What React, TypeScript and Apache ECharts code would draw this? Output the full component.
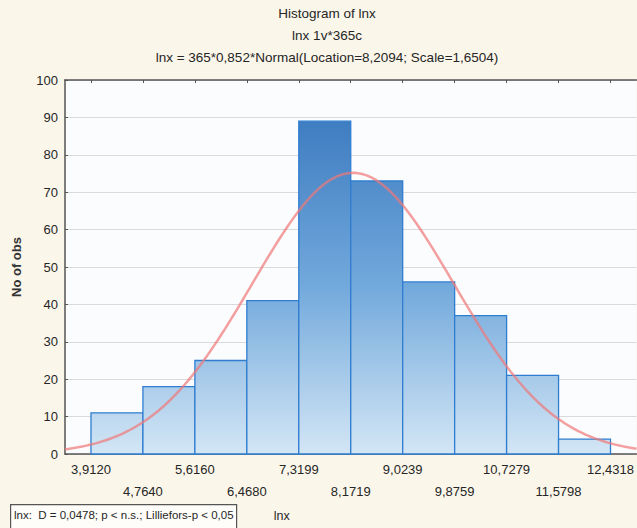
import React, { useEffect, useRef } from "react";
import * as echarts from "echarts";

// Histogram of lnx with the fitted normal curve
const binEdges = [3.912, 4.764, 5.616, 6.468, 7.3199, 8.1719, 9.0239, 9.8759, 10.7279, 11.5798, 12.4318];
const binCounts = [11, 18, 25, 41, 89, 73, 46, 37, 21, 4];
const yTicks = [0, 10, 20, 30, 40, 50, 60, 70, 80, 90, 100];

// Fit parameters shown in the subtitle: lnx = 365*0,852*Normal(Location=8,2094; Scale=1,6504)
const N_OBS = 365;
const BIN_WIDTH = 0.852;
const LOCATION = 8.2094;
const SCALE = 1.6504;

const titleLines = [
  "Histogram of lnx",
  "lnx 1v*365c",
  "lnx = 365*0,852*Normal(Location=8,2094; Scale=1,6504)",
];
const statsText = "lnx:  D = 0,0478; p < n.s.; Lilliefors-p < 0,05";

const FONT = "'Liberation Sans', Arial, sans-serif";

const fmt = (v: number) => v.toFixed(4).replace(".", ",");

export default function App() {
  const ref = useRef<HTMLDivElement>(null);

  useEffect(() => {
    document.body.style.margin = "0";
    if (!ref.current) return;
    const chart = echarts.init(ref.current, undefined, { renderer: "svg" });

    const xMin = binEdges[0] - BIN_WIDTH / 2;
    const xMax = binEdges[binEdges.length - 1] + BIN_WIDTH / 2;

    const bars = binCounts.map((c, i) => [binEdges[i], binEdges[i + 1], c]);

    const curve: number[][] = [];
    const steps = 200;
    for (let i = 0; i <= steps; i++) {
      const x = xMin + ((xMax - xMin) * i) / steps;
      const z = (x - LOCATION) / SCALE;
      const pdf = Math.exp(-0.5 * z * z) / (SCALE * Math.sqrt(2 * Math.PI));
      curve.push([x, N_OBS * BIN_WIDTH * pdf]);
    }

    chart.setOption({
      animation: false,
      backgroundColor: "#fbf6ea",
      textStyle: { fontFamily: FONT },
      title: titleLines.map((t, i) => ({
        text: t,
        left: 327,
        top: 6 + i * 22,
        textAlign: "center",
        padding: 0,
        textStyle: { fontFamily: FONT, fontSize: 13.5, fontWeight: "normal", color: "#262626" },
      })),
      grid: {
        left: 65,
        right: -2,
        top: 80,
        bottom: 74,
        show: true,
        backgroundColor: "#fbfcfe",
        borderWidth: 0,
      },
      xAxis: [
        {
          type: "value",
          min: xMin,
          max: xMax,
          name: "lnx",
          nameLocation: "middle",
          nameGap: 55,
          nameTextStyle: { fontFamily: FONT, fontSize: 12.5, color: "#262626", padding: [0, 138, 0, 0] },
          axisLine: { show: true, lineStyle: { color: "#555", width: 1.5 } },
          axisTick: { show: false },
          splitLine: { show: false },
          axisLabel: {
            customValues: binEdges,
            margin: 4,
            fontSize: 13,
            lineHeight: 22.5,
            color: "#262626",
            fontFamily: FONT,
            formatter: (v: number) => {
              const i = binEdges.findIndex((e) => Math.abs(e - v) < 1e-6);
              const s = fmt(v);
              return i % 2 === 1 ? "\n" + s : s;
            },
          },
        },
        {
          type: "value",
          position: "top",
          min: xMin,
          max: xMax,
          axisLine: { show: true, lineStyle: { color: "#555", width: 1.5 } },
          axisTick: { show: true, inside: true, length: 3, customValues: binEdges, lineStyle: { color: "#555" } },
          axisLabel: { show: false },
          splitLine: { show: false },
        },
      ],
      yAxis: {
        type: "value",
        min: 0,
        max: 100,
        interval: 10,
        name: "No of obs",
        nameLocation: "middle",
        nameGap: 42,
        nameTextStyle: { fontFamily: FONT, fontSize: 13, fontWeight: "bold", color: "#333" },
        axisLine: { show: true, lineStyle: { color: "#555", width: 1.5 } },
        axisTick: { show: true, inside: true, length: 3, lineStyle: { color: "#555" } },
        axisLabel: {
          margin: 7,
          fontSize: 13,
          color: "#262626",
          fontFamily: FONT,
          customValues: yTicks,
        },
        splitLine: { show: true, lineStyle: { color: "#dadada", width: 1 } },
      },
      series: [
        {
          type: "custom",
          xAxisIndex: 0,
          encode: { x: [0, 1], y: 2 },
          data: bars,
          z: 2,
          renderItem: (_params: any, api: any) => {
            const top = api.coord([api.value(0), api.value(2)]);
            const bottom = api.coord([api.value(1), 0]);
            const plotTop = api.coord([api.value(0), 100])[1];
            const fill = new echarts.graphic.LinearGradient(
              0,
              plotTop,
              0,
              bottom[1],
              [
                { offset: 0, color: "#3a74b8" },
                { offset: 0.1, color: "#3e7cc1" },
                { offset: 0.55, color: "#72a9dc" },
                { offset: 1, color: "#d3e6f5" },
              ],
              true
            );
            return {
              type: "rect",
              shape: { x: top[0], y: top[1], width: bottom[0] - top[0], height: bottom[1] - top[1] },
              style: { fill, stroke: "#2f7dd0", lineWidth: 1.3 },
            };
          },
        },
        {
          type: "line",
          xAxisIndex: 0,
          data: curve,
          showSymbol: false,
          smooth: false,
          z: 3,
          lineStyle: { color: "rgba(240,120,120,0.7)", width: 2.5 },
        },
      ],
      graphic: [
        {
          type: "rect",
          left: 10,
          top: 504,
          shape: { width: 226, height: 30 },
          style: { fill: "#fefdf9", stroke: "#555", lineWidth: 1.2 },
        },
        {
          type: "text",
          left: 14,
          top: 509,
          style: { text: statsText, fontFamily: FONT, fontSize: 11.5, fill: "#262626" },
        },
      ],
    });

    return () => chart.dispose();
  }, []);

  return <div ref={ref} style={{ position: "fixed", left: 0, top: 0, width: 637, height: 528 }} />;
}
